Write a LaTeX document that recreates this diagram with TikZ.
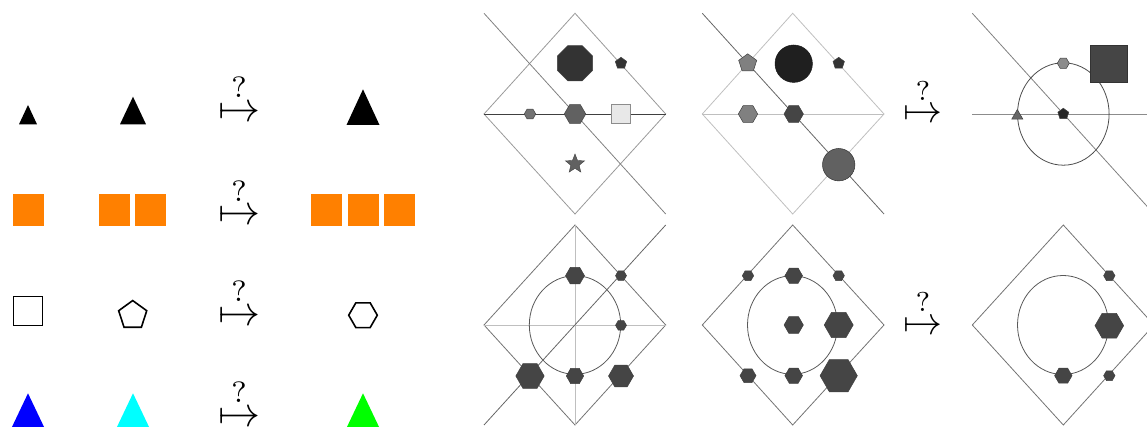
\documentclass[tikz,border=0pt]{standalone}
\usetikzlibrary{shapes.geometric}
\definecolor{orng}{RGB}{255,128,0}
\definecolor{cyn}{RGB}{0,255,255}
\definecolor{blu}{RGB}{0,0,255}
\definecolor{grn}{RGB}{0,255,0}
\tikzset{
  poly/.style={regular polygon, inner sep=0pt, draw=black!75, line width=0.5pt},
  hexa/.style={poly, regular polygon sides=6, fill=black!73, minimum size=#1},
  penta/.style={poly, regular polygon sides=5, minimum size=#1},
  octa/.style={poly, regular polygon sides=8, minimum size=#1},
  oshape/.style={draw=black, line width=1.6pt, inner sep=0pt},
  sq/.style={fill=orng, inner sep=0pt, minimum width=31pt, minimum height=31.5pt},
  mapsarrow/.style={anchor=base, inner sep=0pt, scale=#1},
  frame/.style={draw=black!40, line width=0.8pt},
  thinline/.style={line width=0.8pt},
}
\begin{document}
\begin{tikzpicture}[x=1pt,y=-1pt]
\useasboundingbox (0,0) rectangle (1147,427);
\clip (0,0) rectangle (1147,427);
% ---------- left panel ----------
% row 1
\fill (19,124.3) -- (28,105) -- (37,124.3) -- cycle;
\fill (120,124.3) -- (133,96.7) -- (146,124.3) -- cycle;
\fill (346.5,125) -- (363,89.3) -- (379.5,125) -- cycle;
\node[mapsarrow=4.2] (a1) at (239,121.5) {$\stackrel{?}{\mapsto}$};
% row 2
\node[sq] (s1) at (28.2,209.9) {};
\node[sq] (s2) at (114.3,209.9) {};
\node[sq] (s3) at (150.6,209.9) {};
\node[sq] (s4) at (326.8,209.9) {};
\node[sq] (s5) at (363,209.9) {};
\node[sq] (s6) at (399.5,209.9) {};
\node[mapsarrow=4.2] (a2) at (239,225) {$\stackrel{?}{\mapsto}$};
% row 3
\node[oshape, minimum size=29pt] (q1) at (28,311) {};
\node[oshape, regular polygon, regular polygon sides=5, minimum size=29.5pt] (p1) at (132.7,315.3) {};
\node[oshape, regular polygon, regular polygon sides=6, minimum size=28.6pt] (h1) at (363,315.2) {};
\node[mapsarrow=4.2] (a3) at (239,325.2) {$\stackrel{?}{\mapsto}$};
% row 4
\fill[blu] (11,429) -- (28,393.3) -- (45,429) -- cycle;
\fill[cyn] (116,429) -- (133,393.3) -- (150,429) -- cycle;
\fill[grn] (346,429) -- (363,393.3) -- (380,429) -- cycle;
\node[mapsarrow=4.2] (a4) at (239,426.5) {$\stackrel{?}{\mapsto}$};
% ---------- right panel ----------
% panel 1
\draw[frame] (575,13.3) -- (665.7,114) -- (575,214) -- (484,114) -- cycle;
\draw[thinline, black!50] (484,13.3) -- (665.7,214);
\draw[thinline, black!75] (484,114) -- (665.7,114);
\node[octa=38pt, fill=black!80] (o1) at (575,63.3) {};
\node[penta=12pt, fill=black!80] (p2) at (621,63.3) {};
\node[poly, regular polygon sides=6, minimum size=11.5pt, fill=black!55] (h2) at (530,114) {};
\node[poly, regular polygon sides=6, minimum size=21.5pt, fill=black!62] (h3) at (575,114) {};
\node[draw=black!45, fill=black!9, inner sep=0pt, minimum size=19pt, line width=0.5pt] (q2) at (621,114) {};
\node[star, star points=5, star point ratio=2.3, inner sep=0pt, minimum size=20pt, fill=black!62, draw=black!75, line width=0.4pt] (st) at (575,164) {};
% panel 2
\draw[draw=black!25, line width=0.8pt] (792.7,13.3) -- (884,114) -- (792.7,214) -- (702.3,114) -- cycle;
\draw[thinline, black!25] (702.3,114) -- (884,114);
\draw[thinline, black!60] (702.3,13.3) -- (884,214);
\node[penta=19pt, fill=black!50] (p3) at (747.7,63.3) {};
\node[circle, inner sep=0pt, minimum size=37.4pt, fill=black!88, draw=black!90, line width=0.5pt] (c1) at (793.7,63.7) {};
\node[penta=12pt, fill=black!80] (p4) at (838.7,63.3) {};
\node[poly, regular polygon sides=6, minimum size=19.4pt, fill=black!50] (h4) at (748,114) {};
\node[hexa=19.4pt] (h5) at (793.7,114) {};
\node[circle, inner sep=0pt, minimum size=32.4pt, fill=black!62, draw=black!80, line width=0.5pt] (c2) at (838.7,164.7) {};
\node[mapsarrow=3.9] (a5) at (923,123) {$\stackrel{?}{\mapsto}$};
% panel 3
\draw[thinline, black!50] (972.3,13.3) -- (1154,214);
\draw[thinline, black!45] (972.3,114) -- (1150,114);
\draw[line width=0.8pt, black!70] (1063.3,114) ellipse [x radius=45.8, y radius=51.2];
\node[poly, regular polygon sides=6, minimum size=12pt, fill=black!45] (h6) at (1063.3,63.3) {};
\node[draw=black!80, fill=black!73, inner sep=0pt, minimum size=37pt, line width=0.5pt] (q3) at (1109.2,63.5) {};
\node[poly, regular polygon sides=3, minimum size=13pt, fill=black!60] (t1) at (1017.3,116) {};
\node[penta=11.5pt, fill=black!85] (p5) at (1063.3,114) {};
% panel 4
\draw[draw=black!55, line width=0.8pt] (575,225) -- (665.7,325) -- (575,425) -- (484,325) -- cycle;
\draw[thinline, black!25] (575,225) -- (575,425);
\draw[thinline, black!25] (484,325) -- (665.7,325);
\draw[thinline, black!60] (484,425) -- (665.7,225);
\draw[line width=0.8pt, black!65] (575,325) ellipse [x radius=45.7, y radius=49.3];
\node[hexa=19pt] (h7) at (575,275.7) {};
\node[hexa=11pt] (h8) at (621,275.7) {};
\node[hexa=11pt] (h9) at (621,325.3) {};
\node[hexa=28.4pt] (h10) at (530,376) {};
\node[hexa=17.4pt] (h11) at (575,376) {};
\node[hexa=25pt] (h12) at (621,376) {};
% panel 5
\draw[draw=black!55, line width=0.8pt] (792.7,225) -- (884,325) -- (792.7,425) -- (702.3,325) -- cycle;
\draw[line width=0.8pt, black!65] (792.5,325) ellipse [x radius=45, y radius=49.3];
\node[hexa=11.4pt] (h13) at (748,275.7) {};
\node[hexa=17.6pt] (h14) at (793.7,275.7) {};
\node[hexa=11.4pt] (h15) at (838.7,275.7) {};
\node[hexa=19.3pt] (h16) at (793.7,325) {};
\node[hexa=29pt] (h17) at (838.7,325) {};
\node[hexa=16pt] (h18) at (748,375.7) {};
\node[hexa=17.6pt] (h19) at (793.7,375.7) {};
\node[hexa=37.3pt] (h20) at (838.7,375.7) {};
\node[mapsarrow=3.9] (a6) at (923,334) {$\stackrel{?}{\mapsto}$};
% panel 6
\draw[draw=black!55, line width=0.8pt] (1063.3,225) -- (1154,325) -- (1063.3,425) -- (972.3,325) -- cycle;
\draw[line width=0.8pt, black!65] (1063,325) ellipse [x radius=45.5, y radius=49.5];
\node[hexa=11.4pt] (h21) at (1109.3,275.7) {};
\node[hexa=28.7pt] (h22) at (1109.3,325.7) {};
\node[hexa=17.4pt] (h23) at (1063.3,375.7) {};
\node[hexa=11.4pt] (h24) at (1109.3,375.7) {};
\end{tikzpicture}
\end{document}
